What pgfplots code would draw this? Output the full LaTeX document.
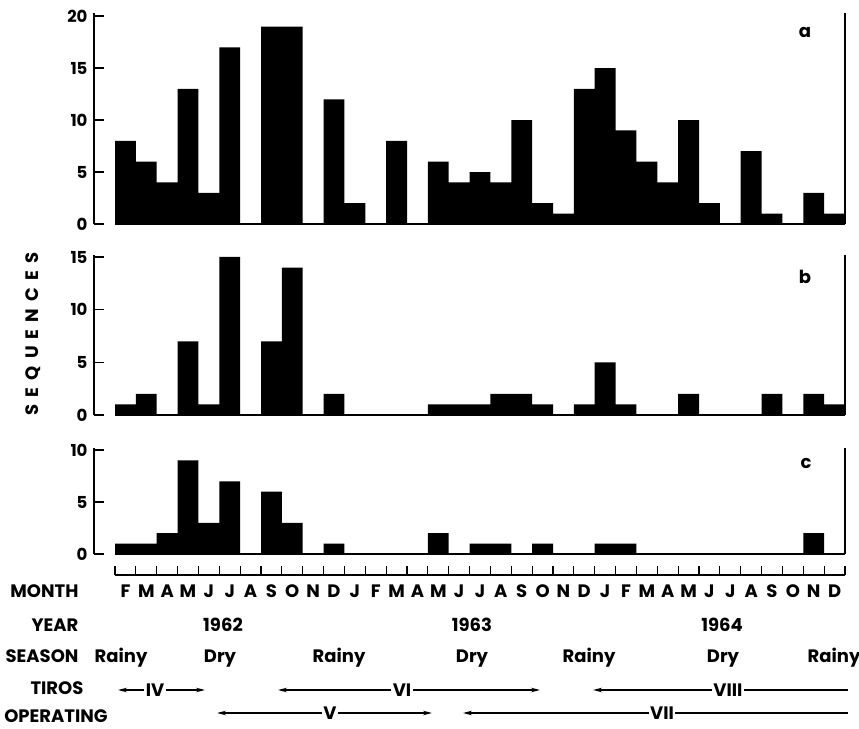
\documentclass[border=0pt]{standalone}
\usepackage{pgfplots}
\pgfplotsset{compat=1.18}
\usepackage{pgfplotstable}
\usepackage{fontspec}
\setmainfont{Poppins}
\usetikzlibrary{arrows.meta}

\newcommand\lab{\fontsize{18}{20}\selectfont\bfseries}

\pgfplotstableread{
x a b c
0 8 1 1
1 6 2 1
2 4 0 2
3 13 7 9
4 3 1 3
5 17 15 7
6 0 0 0
7 19 7 6
8 19 14 3
9 0 0 0
10 12 2 1
11 2 0 0
12 0 0 0
13 8 0 0
14 0 0 0
15 6 1 2
16 4 1 0
17 5 1 1
18 4 2 1
19 10 2 0
20 2 1 1
21 1 0 0
22 13 1 0
23 15 5 1
24 9 1 1
25 6 0 0
26 4 0 0
27 10 2 0
28 2 0 0
29 0 0 0
30 7 0 0
31 1 2 0
32 0 0 0
33 3 2 2
34 1 1 0
}\data

\pgfplotsset{panel/.style={
  scale only axis, width=751pt, xmin=-1.507, xmax=34.5, ymin=0,
  axis x line=none, axis y line*=left,
  y axis line style={line width=1.3pt},
  xtick=\empty, tick align=inside, major tick length=10pt,
  ytick style={line width=1.3pt,black},
  yticklabel style={font=\fontsize{16.5}{16.5}\selectfont\bfseries, xshift=-3pt},
  /pgf/number format/assume math mode=true,
  ybar, bar width=1, clip=false,
  anchor=south west,
}}

\begin{document}
\begin{tikzpicture}
\path[use as bounding box] (0,0) rectangle (859pt,728pt);

% panel a
\begin{axis}[panel, at={(94pt,504pt)}, height=211pt, ymax=20.3, ytick={0,5,10,15,20}]
\addplot[fill=black, draw=none, bar shift=0pt] table[x=x,y=a] {\data};
\draw[line width=1.3pt] (axis cs:-0.5,0) -- (axis cs:34.5,0);
\draw[line width=1.6pt] (axis cs:34.5,0) -- (axis cs:34.5,20.3);
\end{axis}

% panel b
\begin{axis}[panel, at={(94pt,313pt)}, height=160pt, ymax=15.19, ytick={0,5,10,15}]
\addplot[fill=black, draw=none, bar shift=0pt] table[x=x,y=b] {\data};
\draw[line width=1.3pt] (axis cs:-0.5,0) -- (axis cs:34.5,0);
\draw[line width=1.6pt] (axis cs:34.5,0) -- (axis cs:34.5,15.19);
\end{axis}

% panel c
\begin{axis}[panel, at={(94pt,174pt)}, height=106pt, ymax=10.2, ytick={0,5,10}]
\addplot[fill=black, draw=none, bar shift=0pt] table[x=x,y=c] {\data};
\draw[line width=1.3pt] (axis cs:-0.5,0) -- (axis cs:34.5,0);
\draw[line width=1.6pt] (axis cs:34.5,0) -- (axis cs:34.5,10.2);
\end{axis}

% panel letters
\node[font=\lab] at (805pt,696pt) {a};
\node[font=\lab] at (805pt,451pt) {b};
\node[font=\lab] at (806pt,265pt) {c};

% y label
\node[rotate=90, font=\fontsize{18}{20}\selectfont\bfseries\addfontfeatures{LetterSpace=40}] at (33pt,394pt) {SEQUENCES};

% month tick row
\draw[line width=1.2pt] (115pt,153pt) -- (845pt,153pt);
\foreach \k in {0,...,35} {
  \draw[line width=1.2pt] ({(115+20.857*\k)*1pt},153pt) -- ({(115+20.857*\k)*1pt},162pt);
}
\foreach \l [count=\i from 0] in {F,M,A,M,J,J,A,S,O,N,D,J,F,M,A,M,J,J,A,S,O,N,D,J,F,M,A,M,J,J,A,S,O,N,D} {
  \node[font=\lab, anchor=base] at ({(115+20.857*(\i+0.5))*1pt},130pt) {\l};
}

% row labels
\node[font=\lab, anchor=base east] at (82pt,130pt) {MONTH};
\node[font=\lab, anchor=base east] at (82pt,96pt) {YEAR};
\node[font=\lab, anchor=base east] at (82pt,65pt) {SEASON};
\node[font=\lab, anchor=base] at (57pt,34pt) {TIROS};
\node[font=\lab, anchor=base] at (56pt,6pt) {OPERATING};

% years
\node[font=\lab, anchor=base] at (223pt,96pt) {1962};
\node[font=\lab, anchor=base] at (472pt,96pt) {1963};
\node[font=\lab, anchor=base] at (722pt,96pt) {1964};

% seasons
\foreach \xx/\s in {121/Rainy,220/Dry,339/Rainy,472/Dry,589/Rainy,723/Dry,834/Rainy} {
  \node[font=\lab, anchor=base] at (\xx pt,65pt) {\s};
}

% TIROS arrows
\tikzset{arr/.style={line width=1.3pt, {Stealth[length=9pt,width=4.5pt]}-{Stealth[length=9pt,width=4.5pt]}},
         larr/.style={line width=1.3pt, {Stealth[length=9pt,width=4.5pt]}-},
         tl/.style={font=\lab, fill=white, inner sep=1.5pt}}
\draw[arr] (118pt,38pt) -- (205pt,38pt);
\node[tl] at (155pt,38pt) {IV};
\draw[arr] (278pt,38pt) -- (540pt,38pt);
\node[tl] at (402pt,38pt) {VI};
\draw[arr] (217pt,15pt) -- (432pt,15pt);
\node[tl] at (330pt,15pt) {V};
\draw[larr] (593pt,38pt) -- (848pt,38pt);
\node[tl] at (728pt,38pt) {VIII};
\draw[larr] (463pt,15pt) -- (848pt,15pt);
\node[tl] at (662pt,15pt) {VII};
\end{tikzpicture}
\end{document}
